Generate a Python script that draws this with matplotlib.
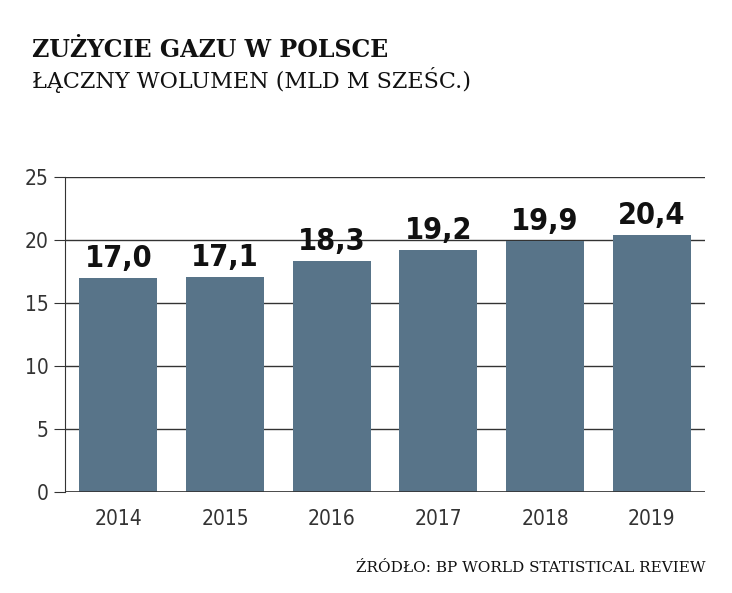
import matplotlib
matplotlib.use("Agg")
import matplotlib.pyplot as plt

years = ["2014", "2015", "2016", "2017", "2018", "2019"]
values = [17.0, 17.1, 18.3, 19.2, 19.9, 20.4]
labels = ["17,0", "17,1", "18,3", "19,2", "19,9", "20,4"]
yticks = [0, 5, 10, 15, 20, 25]

fig = plt.figure(figsize=(7.32, 5.93), dpi=100)
ax = fig.add_axes([65/732, 1-492/593, 640/732, 315/593])
x = range(len(years))
ax.bar(x, values, width=0.73, color="#587489", zorder=3)
ax.set_xlim(-0.5, len(years)-0.5)
ax.set_ylim(0, 25)
ax.set_yticks(yticks)
ax.grid(axis="y", color="#333333", linewidth=1, zorder=0)
for s in ["top", "right", "bottom"]:
    ax.spines[s].set_visible(False)
ax.spines["left"].set_color("#333333")
ax.axhline(0, color="#333333", linewidth=1.2, zorder=4)
ax.tick_params(axis="y", length=8, color="#333333", labelsize=15, labelcolor="#333333", pad=4)
ax.tick_params(axis="x", length=0, labelsize=15, labelcolor="#333333", pad=12)
ax.set_xticks(list(x))
ax.set_xticklabels(years, fontstretch="condensed")
for t in ax.get_yticklabels():
    t.set_fontstretch("condensed")
for i, (v, l) in enumerate(zip(values, labels)):
    ax.text(i, v + 0.4, l, ha="center", va="bottom", fontsize=22, fontweight="bold",
            fontstretch="condensed", color="#111111", zorder=5)

fig.text(32/732, 1-50/593, "ZUŻYCIE GAZU W POLSCE", family="DejaVu Serif", fontweight="bold",
         fontsize=17, va="center", color="#111111")
fig.text(32/732, 1-80/593, "ŁĄCZNY WOLUMEN (MLD M SZEŚC.)", family="DejaVu Serif",
         fontsize=16, va="center", color="#111111")
fig.text(705/732, 1-568/593, "ŹRÓDŁO: BP WORLD STATISTICAL REVIEW", family="DejaVu Serif",
         fontsize=11, ha="right", va="center", color="#111111")
fig.savefig("out.png", dpi=100)
